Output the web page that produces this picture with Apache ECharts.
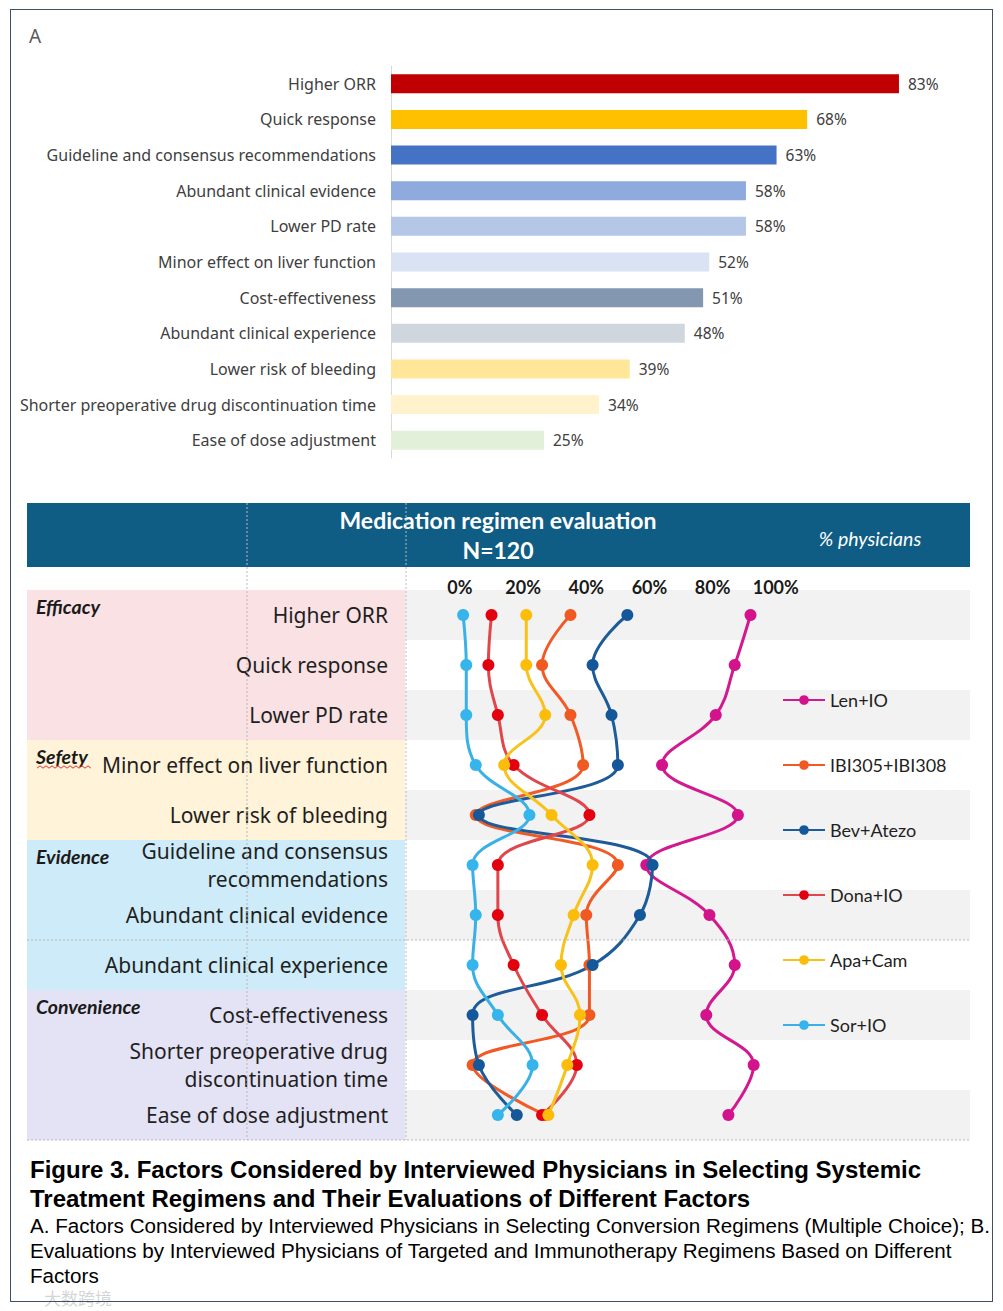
<!DOCTYPE html>
<html><head><meta charset="utf-8">
<script src="https://cdn.jsdelivr.net/npm/echarts@6/dist/echarts.min.js"></script>
<style>
html,body{margin:0;padding:0;background:#fff;}
#wrap{position:relative;width:1003px;height:1311px;overflow:hidden;background:#fff;}
#chart{position:absolute;left:0;top:0;width:1003px;height:1150px;}
#frame{position:absolute;left:10px;top:9px;width:983px;height:1293px;border:1.5px solid #3e4f66;box-sizing:border-box;pointer-events:none;}
.cap{position:absolute;left:30px;white-space:nowrap;transform-origin:0 0;font-family:"Liberation Sans",Arial,sans-serif;color:#000;}
.b{font-weight:bold;font-size:24px;line-height:28px;}
.r{font-size:20px;line-height:24px;}
#wm{position:absolute;left:44px;top:1289px;font-family:"Noto Sans CJK SC",sans-serif;font-size:17px;line-height:18px;color:rgba(170,170,170,0.5);}
</style></head>
<body><div id="wrap">
<div id="chart"></div>
<div class="cap b" id="c1" style="top:1156px">Figure 3. Factors Considered by Interviewed Physicians in Selecting Systemic</div>
<div class="cap b" id="c2" style="top:1185px">Treatment Regimens and Their Evaluations of Different Factors</div>
<div class="cap r" id="c3" style="top:1214px">A. Factors Considered by Interviewed Physicians in Selecting Conversion Regimens (Multiple Choice); B.</div>
<div class="cap r" id="c4" style="top:1239px">Evaluations by Interviewed Physicians of Targeted and Immunotherapy Regimens Based on Different</div>
<div class="cap r" id="c5" style="top:1264px">Factors</div>
<div id="wm">大数跨境</div>
<div id="frame"></div>
</div>
<script>
// ---------- Panel A data ----------
const factorsA = ['Higher ORR','Quick response','Guideline and consensus recommendations','Abundant clinical evidence','Lower PD rate','Minor effect on liver function','Cost-effectiveness','Abundant clinical experience','Lower risk of bleeding','Shorter preoperative drug discontinuation time','Ease of dose adjustment'];
const valuesA = [83,68,63,58,58,52,51,48,39,34,25];
const colorsA = ['#c00000','#ffc000','#4472c4','#8faadc','#b4c7e7','#dae3f3','#8497b0','#d0d6de','#ffe699','#fff2cc','#e2f0d9'];

// ---------- Panel B data ----------
const categoriesB = ['Higher ORR','Quick response','Lower PD rate','Minor effect on liver function','Lower risk of bleeding','Guideline and consensus\nrecommendations','Abundant clinical evidence','Abundant clinical experience','Cost-effectiveness','Shorter preoperative drug\ndiscontinuation time','Ease of dose adjustment'];
const xTicksB = [0,20,40,60,80,100];
const lenIO  = [92,87,81,64,88,59,79,87,78,93,85];
const ibiIO  = [35,26,35,39,5,50,40,41,41,4,27];
const bevAte = [53,42,48,50,6,61,57,42,4,6,18];
const donaIO = [10,9,12,17,41,12,12,17,26,37,26];
const apaCam = [21,21,27,14,29,42,36,32,38,34,28];
const sorIO  = [1,2,2,5,22,4,5,4,12,23,12];
const seriesNames = ['Len+IO','IBI305+IBI308','Bev+Atezo','Dona+IO','Apa+Cam','Sor+IO'];
const seriesData = [lenIO, ibiIO, bevAte, donaIO, apaCam, sorIO];
const lineColors = ['#d3198f','#f15a24','#1d5b99','#e0474c','#f7c21b','#3ab1e6'];
const dotColors  = ['#d3128c','#f05a22','#15589a','#e3000f','#fbbd0a','#36b4ec'];
const groupsB = [
  {name:'Efficacy', first:0, last:2, color:'#f9e1e4'},
  {name:'Sefety', first:3, last:4, color:'#fff3d9'},
  {name:'Evidence', first:5, last:7, color:'#cdebf8'},
  {name:'Convenience', first:8, last:10, color:'#e4e2f5'}
];

const FA = '"Noto Sans","Open Sans",sans-serif';
const FL = 'Lato,"Open Sans",sans-serif';

const chart = echarts.init(document.getElementById('chart'), null, {renderer:'svg'});
const option = {
  animation:false,
  grid:[
    {left:391, top:66, width:613, height:392},
    {left:405, top:590, width:565, height:550}
  ],
  xAxis:[
    {gridIndex:0, type:'value', min:0, max:100, show:false},
    {gridIndex:1, type:'value', position:'top', min:-17.4, max:161.5,
     axisLine:{show:false}, axisTick:{show:false}, splitLine:{show:false},
     axisLabel:{customValues:xTicksB, formatter:'{value}%', fontWeight:'bold', fontSize:18, color:'#1a1a1a', margin:-6, fontFamily:FL}}
  ],
  yAxis:[
    {gridIndex:0, type:'category', data:factorsA, inverse:true,
     axisLine:{show:true, lineStyle:{color:'#d9d9d9', width:1}}, axisTick:{show:false},
     axisLabel:{interval:0, fontSize:16, color:'#404040', margin:15, fontFamily:FA}},
    {gridIndex:1, type:'category', data:categoriesB, inverse:true,
     axisLine:{show:false}, axisTick:{show:false},
     splitArea:{show:true, interval:0, areaStyle:{color:['#f2f2f2','rgba(255,255,255,0)']}},
     axisLabel:{interval:0, fontSize:21, color:'#1f1f1f', margin:17, lineHeight:28, padding:[0,0,9,0], fontFamily:FA}}
  ],
  legend:{
    orient:'vertical', left:777, top:686, itemWidth:42, itemHeight:12, itemGap:47,
    selectedMode:false, data:seriesNames,
    textStyle:{fontSize:18, color:'#1f1f1f', fontFamily:FL}
  },
  series:[
    {type:'bar', xAxisIndex:0, yAxisIndex:0, barWidth:19,
     data:valuesA.map((v,i)=>({value:v, itemStyle:{color:colorsA[i]}})),
     label:{show:true, position:'right', distance:9, formatter:'{c}%', fontSize:15.5, color:'#404040', fontFamily:FA}}
  ].concat(seriesNames.map((n,i)=>({
    name:n, type:'line', xAxisIndex:1, yAxisIndex:1, data:seriesData[i],
    smooth:0.4, symbol:'circle', symbolSize:12,
    lineStyle:{width:3, color:lineColors[i]}, itemStyle:{color:dotColors[i]}
  })))
};
chart.setOption(option);

// decorations positioned with the library's own axes
const yc = i => chart.convertToPixel({yAxisIndex:1}, categoriesB[i]);
const band = yc(1) - yc(0);
const botB = yc(10) + band/2;
const g = [];
g.push({type:'text', left:29, top:26, style:{text:'A', fontSize:19, fill:'#595959', fontFamily:FA}});
g.push({type:'rect', shape:{x:27, y:503, width:943, height:64}, style:{fill:'#0f5c85'}, z:-5});
g.push({type:'text', x:498, y:520, style:{text:'Medication regimen evaluation', fill:'#fff', fontSize:23, fontWeight:'bold', fontFamily:FL, align:'center', verticalAlign:'middle'}});
g.push({type:'text', x:498, y:550, style:{text:'N=120', fill:'#fff', fontSize:23, fontWeight:'bold', fontFamily:FL, align:'center', verticalAlign:'middle'}});
g.push({type:'text', x:870, y:538, style:{text:'% physicians', fill:'#fff', fontSize:19.5, fontStyle:'italic', fontFamily:FL, align:'center', verticalAlign:'middle'}});
groupsB.forEach((gr,k)=>{
  const y0 = yc(gr.first) - band/2, y1 = yc(gr.last) + band/2;
  g.push({type:'rect', shape:{x:27, y:y0, width:378, height:y1-y0}, style:{fill:gr.color}, z:-10});
  g.push({type:'text', x:36, y:y0+16, style:{text:gr.name, fontSize:19.5, fontWeight:'bold', fontStyle:'italic', fill:'#1a1a1a', fontFamily:FL, verticalAlign:'middle'}, z:5});
  if (gr.name === 'Sefety') {
    const pts = [];
    for (let x = 37; x <= 92; x += 3) pts.push([x, y0 + 27 + ((x - 37) / 3 % 2 ? -1.2 : 1.2)]);
    g.push({type:'polyline', shape:{points:pts}, style:{stroke:'#e03030', lineWidth:1, fill:null}, z:5});
  }
});
const dash = {stroke:'#b9b9b9', lineWidth:1, lineDash:[2,2]};
g.push({type:'line', shape:{x1:247, y1:503, x2:247, y2:botB}, style:dash, z:5});
g.push({type:'line', shape:{x1:406, y1:503, x2:406, y2:botB}, style:dash, z:5});
const ySplit = (yc(6)+yc(7))/2;
g.push({type:'line', shape:{x1:27, y1:ySplit, x2:970, y2:ySplit}, style:dash, z:5});
g.push({type:'line', shape:{x1:27, y1:botB, x2:970, y2:botB}, style:dash, z:5});
chart.setOption({graphic:g});

// caption width fitting (narrow typeface look)
function fit(id, target){
  const el = document.getElementById(id);
  const w = el.getBoundingClientRect().width;
  return target / w;
}
const sb = fit('c1', 891);
['c1','c2'].forEach(id=>document.getElementById(id).style.transform='scaleX('+sb+')');
const sr = fit('c3', 960);
['c3','c4','c5'].forEach(id=>document.getElementById(id).style.transform='scaleX('+sr+')');
</script>
</body></html>
